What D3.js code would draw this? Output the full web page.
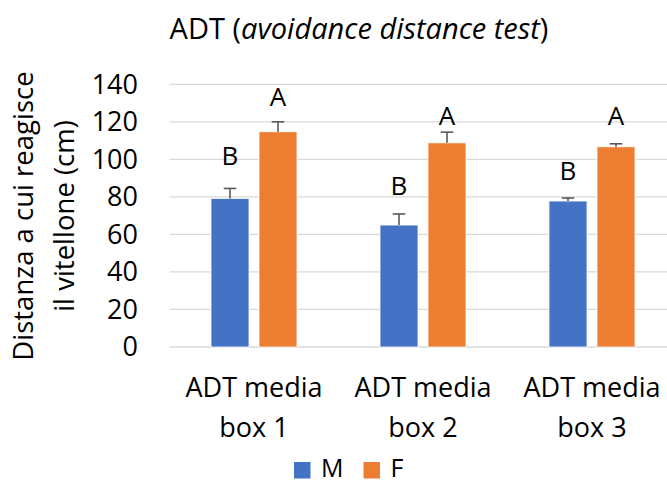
<!DOCTYPE html>
<html><head><meta charset="utf-8">
<script src="https://cdn.jsdelivr.net/npm/d3@7"></script>
<style>body{margin:0;background:#fff}svg{display:block;font-family:"Open Sans",sans-serif}</style>
</head><body><svg id="c" width="667" height="483"></svg>
<script>
const categories = [["ADT media","box 1"],["ADT media","box 2"],["ADT media","box 3"]];
const seriesNames = ["M","F"];
const valuesM = [79.2, 65.0, 77.8];
const valuesF = [114.7, 108.8, 106.7];
const errM = [5.3, 5.9, 1.6];
const errF = [5.3, 5.7, 1.6];
const lettersM = ["B","B","B"];
const lettersF = ["A","A","A"];
const letterAtM = [97, 81, 89];
const letterAtF = [128.4, 118.3, 118.3];
const yTicks = [0,20,40,60,80,100,120,140];
const colors = ["#4472C4","#ED7D31"];

const svg = d3.select("#c");
const W = 667;
const plot = {left:169.5, right:676.5, top:84.3, bottom:347};
const y = d3.scaleLinear().domain([0,140]).range([plot.bottom, plot.top]);
const x0 = d3.scaleBand().domain(d3.range(categories.length)).range([plot.left, plot.right]).padding(0);
const groupW = 86;
const x1 = d3.scaleBand().domain(seriesNames).range([(x0.bandwidth()-groupW)/2, (x0.bandwidth()+groupW)/2]).paddingInner(10/48).paddingOuter(0);

// gridlines
svg.append("g").selectAll("line").data(yTicks).join("line")
  .attr("x1", plot.left).attr("x2", W).attr("y1", d=>y(d)).attr("y2", d=>y(d))
  .attr("stroke", "#D9D9D9").attr("stroke-width", 1.3);

// y tick labels
svg.append("g").selectAll("text").data(yTicks).join("text")
  .attr("x", 138).attr("y", d=>y(d)).attr("dy","0.35em").attr("text-anchor","end")
  .attr("font-size", 27).attr("fill","#000").text(d=>d);

const series = [
  {name:"M", vals:valuesM, err:errM, letters:lettersM, at:letterAtM, color:colors[0]},
  {name:"F", vals:valuesF, err:errF, letters:lettersF, at:letterAtF, color:colors[1]}
];

const g = svg.append("g");
series.forEach(s=>{
  const gx = i => x0(i) + x1(s.name);
  g.selectAll(null).data(s.vals).join("rect")
    .attr("x",(d,i)=>gx(i)).attr("width", x1.bandwidth())
    .attr("y", d=>y(d)).attr("height", d=>y(0)-y(d))
    .attr("fill", s.color).attr("stroke","#fff").attr("stroke-width",0.8);
  s.vals.forEach((v,i)=>{
    const cx = gx(i) + x1.bandwidth()/2;
    g.append("line").attr("x1",cx).attr("x2",cx).attr("y1",y(v)).attr("y2",y(v+s.err[i]))
      .attr("stroke","#595959").attr("stroke-width",1.6);
    g.append("line").attr("x1",cx-6.3).attr("x2",cx+6.3).attr("y1",y(v+s.err[i])).attr("y2",y(v+s.err[i]))
      .attr("stroke","#595959").attr("stroke-width",1.6);
    g.append("text").attr("x",cx).attr("y",y(s.at[i])).attr("text-anchor","middle")
      .attr("font-size",26).attr("fill","#000").text(s.letters[i]);
  });
});

// category labels
const cl = svg.append("g");
categories.forEach((c,i)=>{
  const cx = x0(i)+x0.bandwidth()/2;
  const t = cl.append("text").attr("text-anchor","middle").attr("font-size",27).attr("fill","#000");
  t.append("tspan").attr("x",cx).attr("y",397).text(c[0]);
  t.append("tspan").attr("x",cx).attr("y",437).text(c[1]);
});

// title
const title = svg.append("text").attr("x",359).attr("y",39).attr("text-anchor","middle").attr("font-size",29).attr("fill","#000");
title.append("tspan").text("ADT (");
title.append("tspan").attr("font-style","italic").text("avoidance distance test");
title.append("tspan").text(")");

// y axis title
const yt = svg.append("text").attr("transform","translate(0,216) rotate(-90)").attr("text-anchor","middle").attr("font-size",27.5).attr("fill","#000");
yt.append("tspan").attr("x",0).attr("y",33).text("Distanza a cui reagisce");
yt.append("tspan").attr("x",0).attr("y",74).text("il vitellone (cm)");

// legend
const lg = svg.append("g");
const legX = [294, 363.5];
series.forEach((s,i)=>{
  lg.append("rect").attr("x",legX[i]).attr("y",462).attr("width",16.5).attr("height",16.5).attr("fill",s.color);
  lg.append("text").attr("x",legX[i]+27).attr("y",476.5).attr("font-size",25).attr("fill","#000").text(s.name);
});
</script></body></html>
